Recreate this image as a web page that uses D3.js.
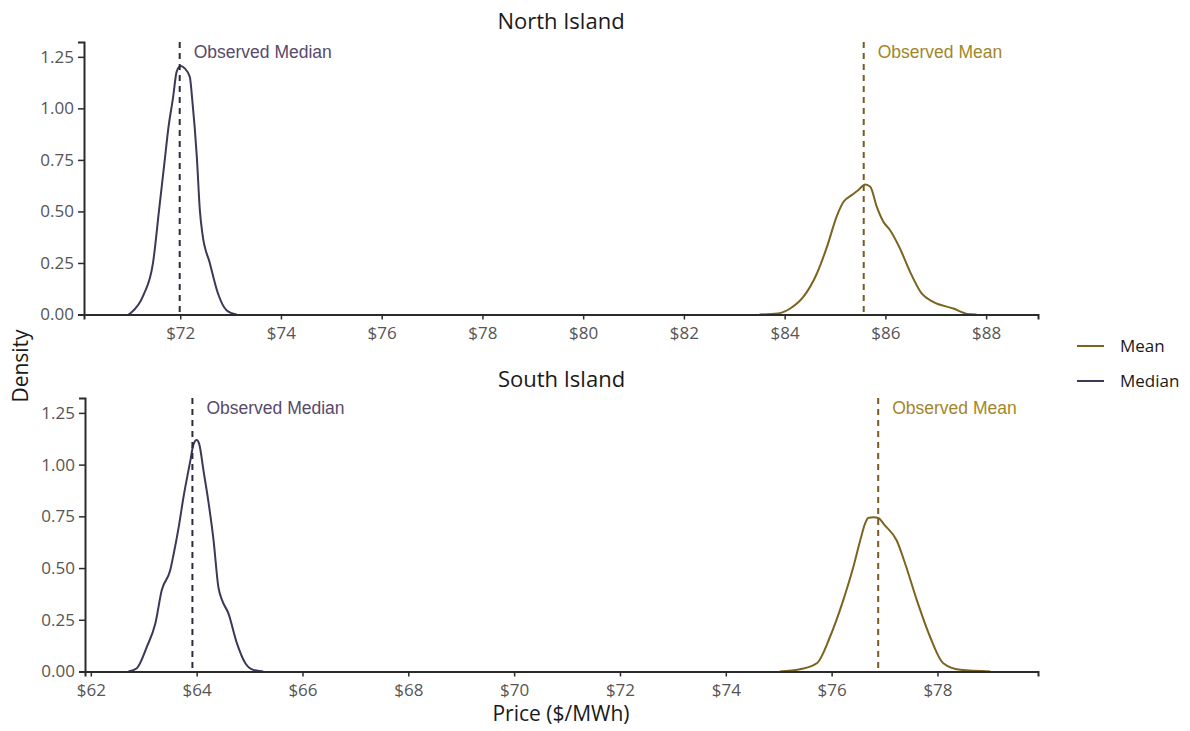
<!DOCTYPE html>
<html>
<head>
<meta charset="utf-8">
<script src="https://cdn.jsdelivr.net/npm/d3@7"></script>
<style>
  html, body { margin: 0; padding: 0; background: #ffffff; }
  svg { display: block; }
</style>
</head>
<body>
<svg id="chart" width="1190" height="731"></svg>
<script>
// ---------- Data ----------
const panelTitles = ["North Island", "South Island"];
const seriesNames = ["Mean", "Median"];

// North Island – distribution of the median
const northMedianPrice   = [70.97, 71.03, 71.27, 71.46, 71.58, 71.70, 71.76, 71.86, 71.93, 72.01, 72.09, 72.19, 72.24, 72.33, 72.39, 72.44, 72.59, 72.75, 72.92, 73.12];
const northMedianDensity = [0, 0.01, 0.094, 0.25, 0.506, 0.765, 0.895, 1.056, 1.178, 1.205, 1.194, 1.153, 1.04, 0.765, 0.506, 0.393, 0.248, 0.102, 0.021, 0];
// North Island – distribution of the mean
const northMeanPrice   = [83.50, 83.87, 84.11, 84.37, 84.64, 84.84, 85.03, 85.17, 85.33, 85.46, 85.60, 85.70, 85.83, 85.96, 86.09, 86.29, 86.49, 86.72, 86.95, 87.35, 87.62, 87.81];
const northMeanDensity = [0, 0.005, 0.029, 0.085, 0.199, 0.328, 0.474, 0.547, 0.579, 0.603, 0.631, 0.62, 0.522, 0.45, 0.41, 0.32, 0.207, 0.102, 0.061, 0.029, 0.003, 0];
// South Island – distribution of the median
const southMedianPrice   = [62.71, 62.87, 63.06, 63.22, 63.34, 63.50, 63.56, 63.66, 63.75, 63.88, 63.94, 64.00, 64.05, 64.13, 64.22, 64.32, 64.41, 64.48, 64.60, 64.76, 64.92, 65.07, 65.26];
const southMedianDensity = [0, 0.016, 0.12, 0.233, 0.393, 0.489, 0.561, 0.697, 0.841, 1.018, 1.098, 1.119, 1.098, 0.97, 0.825, 0.633, 0.409, 0.345, 0.281, 0.137, 0.04, 0.008, 0];
// South Island – distribution of the mean
const southMeanPrice   = [75.02, 75.40, 75.72, 75.97, 76.22, 76.41, 76.54, 76.63, 76.69, 76.79, 76.88, 77.01, 77.23, 77.39, 77.61, 77.86, 78.11, 78.43, 79.00];
const southMeanDensity = [0, 0.011, 0.04, 0.168, 0.345, 0.505, 0.633, 0.713, 0.742, 0.745, 0.742, 0.705, 0.633, 0.521, 0.345, 0.168, 0.04, 0.008, 0];

// Observed statistics
const observedMedian = [71.99, 63.92];
const observedMean   = [85.57, 76.88];

// Axis tick values
const northTicks = [72, 74, 76, 78, 80, 82, 84, 86, 88];
const southTicks = [62, 64, 66, 68, 70, 72, 74, 76, 78];
const densityTicks = [0, 0.25, 0.5, 0.75, 1.0, 1.25];

// ---------- Styling ----------
const colMean = "#7b6420";
const colMedian = "#3b3858";
const colMeanText = "#a2862a";
const colMedianText = "#574a6c";
const colMeanDash = "#7a5a22";
const colMedianDash = "#2b2b3b";
const axisCol = "#2b2b2b";
const tickTextCol = "#555555";

const svg = d3.select("#chart");

const panels = [
  { title: panelTitles[0], top: 42, bottom: 314.5, left: 84, right: 1038,
    xDomain: [70.09, 89.03], ticks: northTicks,
    mean: [northMeanPrice, northMeanDensity], median: [northMedianPrice, northMedianDensity],
    obsMedian: observedMedian[0], obsMean: observedMean[0], titleY: 29 },
  { title: panelTitles[1], top: 398, bottom: 671.5, left: 85, right: 1038,
    xDomain: [61.89, 79.9], ticks: southTicks,
    mean: [southMeanPrice, southMeanDensity], median: [southMedianPrice, southMedianDensity],
    obsMedian: observedMedian[1], obsMean: observedMean[1], titleY: 387 }
];

panels.forEach(p => {
  const x = d3.scaleLinear().domain(p.xDomain).range([p.left, p.right]);
  const y = d3.scaleLinear().domain([0, 1.322]).range([p.bottom, p.top]);
  const g = svg.append("g");

  // title
  g.append("text")
    .attr("x", (p.left + p.right) / 2)
    .attr("y", p.titleY)
    .attr("text-anchor", "middle")
    .attr("font-family", "'Open Sans', sans-serif")
    .attr("font-size", 22)
    .attr("fill", "#1a1a1a")
    .text(p.title);

  const line = d3.line()
    .x(d => x(d[0]))
    .y(d => y(d[1]))
    .curve(d3.curveMonotoneX);

  const toPts = arr => arr[0].map((v, i) => [v, arr[1][i]]);

  // density curves
  g.append("path").datum(toPts(p.median))
    .attr("d", line).attr("fill", "none")
    .attr("stroke", colMedian).attr("stroke-width", 2);
  g.append("path").datum(toPts(p.mean))
    .attr("d", line).attr("fill", "none")
    .attr("stroke", colMean).attr("stroke-width", 2);

  // observed lines
  g.append("line")
    .attr("x1", x(p.obsMedian)).attr("x2", x(p.obsMedian))
    .attr("y1", p.top).attr("y2", p.bottom)
    .attr("stroke", colMedianDash).attr("stroke-width", 2)
    .attr("stroke-dasharray", "6,5");
  g.append("line")
    .attr("x1", x(p.obsMean)).attr("x2", x(p.obsMean))
    .attr("y1", p.top).attr("y2", p.bottom)
    .attr("stroke", colMeanDash).attr("stroke-width", 2)
    .attr("stroke-dasharray", "6,5");

  // labels
  g.append("text")
    .attr("x", x(p.obsMedian) + 14).attr("y", y(1.275))
    .attr("dy", "0.36em")
    .attr("font-family", "'Liberation Sans', Arial, sans-serif")
    .attr("font-size", 17.5)
    .attr("fill", colMedianText)
    .text("Observed Median");
  g.append("text")
    .attr("x", x(p.obsMean) + 14).attr("y", y(1.275))
    .attr("dy", "0.36em")
    .attr("font-family", "'Liberation Sans', Arial, sans-serif")
    .attr("font-size", 17.5)
    .attr("fill", colMeanText)
    .text("Observed Mean");

  // axes
  const xAxis = g.append("g")
    .attr("transform", `translate(0,${p.bottom})`)
    .call(d3.axisBottom(x).tickValues(p.ticks).tickSize(5).tickPadding(7)
      .tickFormat(d => "$" + d));
  const yAxis = g.append("g")
    .attr("transform", `translate(${p.left},0)`)
    .call(d3.axisLeft(y).tickValues(densityTicks).tickSize(6).tickPadding(4)
      .tickFormat(d3.format(".2f")));

  [xAxis, yAxis].forEach(a => {
    a.select(".domain").attr("stroke", axisCol).attr("stroke-width", 2);
    a.selectAll(".tick line").attr("stroke", axisCol).attr("stroke-width", 1.5);
    a.selectAll(".tick text")
      .attr("fill", tickTextCol)
      .attr("font-family", "'Open Sans', sans-serif")
      .attr("font-size", 17);
  });
});

// axis titles
svg.append("text")
  .attr("x", 561).attr("y", 721)
  .attr("text-anchor", "middle")
  .attr("font-family", "'Open Sans', sans-serif")
  .attr("font-size", 21)
  .attr("fill", "#1a1a1a")
  .text("Price ($/MWh)");
svg.append("text")
  .attr("transform", "translate(28,366) rotate(-90)")
  .attr("text-anchor", "middle")
  .attr("font-family", "'Open Sans', sans-serif")
  .attr("font-size", 21)
  .attr("fill", "#1a1a1a")
  .text("Density");

// legend
const legendColors = [colMean, colMedian];
const legend = svg.append("g");
seriesNames.forEach((name, i) => {
  const yy = 346 + i * 35;
  legend.append("line")
    .attr("x1", 1077).attr("x2", 1104)
    .attr("y1", yy).attr("y2", yy)
    .attr("stroke", legendColors[i]).attr("stroke-width", 2);
  legend.append("text")
    .attr("x", 1120).attr("y", yy).attr("dy", "0.35em")
    .attr("font-family", "'Open Sans', sans-serif")
    .attr("font-size", 17)
    .attr("fill", "#1a1a1a")
    .text(name);
});
</script>
</body>
</html>
